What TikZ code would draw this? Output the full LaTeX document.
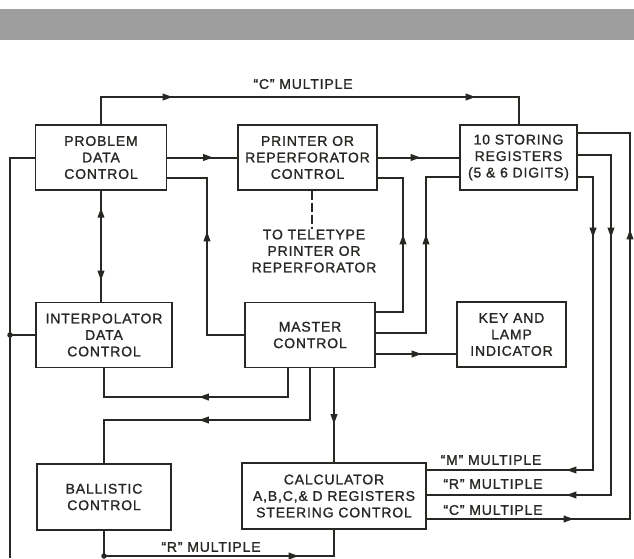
\documentclass[tikz,border=0pt]{standalone}
\usepackage{fontspec}
\newfontfamily\diagfont{Liberation Sans}[LetterSpace=6,FakeBold=1.2]
\usetikzlibrary{arrows.meta,decorations.markings}
\definecolor{ink}{RGB}{38,40,36}

\tikzset{
  block/.style={draw=ink, line width=1.4pt, minimum width=#1, minimum height=65pt,
    inner sep=0pt, align=center, text=ink, font=\diagfont\fontsize{14}{16.5}\selectfont},
  block/.default=131pt,
  wire/.style={draw, color=ink, line width=2pt},
  fwd/.style={postaction={decorate,decoration={markings,
    mark=at position #1 with {\arrow{Triangle[length=10pt,width=6.5pt]}}}}},
  bwd/.style={postaction={decorate,decoration={markings,
    mark=at position #1 with {\arrowreversed{Triangle[length=10pt,width=6.5pt]}}}}},
  tag/.style={inner sep=0pt, align=center, text=ink, font=\diagfont\fontsize{14}{16.5}\selectfont},
  joint/.style={circle, fill=ink, inner sep=0pt, minimum size=5.5pt}
}

\begin{document}
\begin{tikzpicture}[x=1pt, y=-1pt]
    \fill[white] (0,0) rectangle (634,558);
    \useasboundingbox (0,0) rectangle (634,558);
    \fill[ink!45] (0,9) rectangle (634,40);

    % blocks
    \node[block=131pt] (pdc) at (101,157.5) {PROBLEM\\DATA\\CONTROL};
    \node[block=139pt] (prc) at (307.5,157.5) {PRINTER OR\\REPERFORATOR\\CONTROL};
    \node[block=117pt] (sr) at (518.5,157.5) {10 STORING\\REGISTERS\\(5 \& 6 DIGITS)};
    \node[block=136pt] (idc) at (104,335) {INTERPOLATOR\\DATA\\CONTROL};
    \node[block=130pt] (mc) at (310,335) {MASTER\\CONTROL};
    \node[block=109pt] (kli) at (511.5,334.5) {KEY AND\\LAMP\\INDICATOR};
    \node[block=134pt, minimum height=66pt] (bc) at (104,497) {BALLISTIC\\CONTROL};
    \node[block=184pt, minimum height=66pt] (calc) at (334,496) {CALCULATOR\\A,B,C,\& D REGISTERS\\STEERING CONTROL};

    \coordinate (ctop) at (0,97);
    \coordinate (busbot) at (10,558);
    \coordinate (rbot) at (0,556);

    % top row
    \draw[wire, fwd=99pt, fwd=402pt] (pdc.north) -- (pdc.north |- ctop) -| (sr.north);
    \draw[wire, fwd=46pt] (pdc.east) -- (prc.west);
    \draw[wire, fwd=43pt] (prc.east) -- (sr.west);
    \draw[wire, bwd=17pt, fwd=90pt] (pdc.south) -- (pdc.south |- idc.north);

    % master control outputs
    \draw[wire, fwd=141pt] (mc.west) -| (207,178) -- (pdc.east |- 0,178);
    \draw[wire, fwd=105pt] (mc.east |- 0,312) -| (403,178) -- (prc.east |- 0,178);
    \draw[wire, fwd=149pt] (mc.east |- 0,333) -| (426,177) -- (sr.west |- 0,177);
    \draw[wire, fwd=46pt] (mc.east |- 0,354) -- (kli.west |- 0,354);
    \draw[wire, fwd=118pt] (288,0 |- mc.south) -- (288,397) -| (idc.south);
    \draw[wire, fwd=163pt] (mc.south) |- (bc.north |- 0,420) -- (bc.north);
    \draw[wire, fwd=56pt] (calc.north |- mc.south) -- (calc.north);

    % multiples on the right
    \draw[wire, fwd=76pt, fwd=335pt] (sr.east |- 0,177) -| (593,470) -- (calc.east |- 0,470);
    \draw[wire, fwd=116pt, fwd=418pt] (sr.east |- 0,155) -| (611,495) -- (calc.east |- 0,495);
    \draw[wire, fwd=147pt, fwd=493pt] (calc.east |- 0,519) -| (630,133) -- (sr.east |- 0,133);

    % left bus
    \draw[wire] (pdc.west) -| (busbot);
    \draw[wire] (idc.west) -- (idc.west -| busbot) node[joint] (bj) {};

    % bottom "R" multiple
    \draw[wire, fwd=220pt] (bc.south) |- (calc.south |- rbot) -- (calc.south);
    \node[joint] (rj) at (bc.south |- rbot) {};

    % teletype
    \node[tag] (tty) at (314,251) {TO TELETYPE\\PRINTER OR\\REPERFORATOR};
    \draw[ink, line width=1.6pt, dash pattern=on 9pt off 3pt] (312,0 |- prc.south) -- (312,0 |- tty.north);

    % labels
    \node[tag] (lbltop) at (303,84) {“C” MULTIPLE};
    \node[tag] (lblm) at (491,460) {“M” MULTIPLE};
    \node[tag] (lblr) at (493,484) {“R” MULTIPLE};
    \node[tag] (lblc) at (493,510) {“C” MULTIPLE};
    \node[tag] (lblbot) at (211,547) {“R” MULTIPLE};
\end{tikzpicture}
\end{document}
